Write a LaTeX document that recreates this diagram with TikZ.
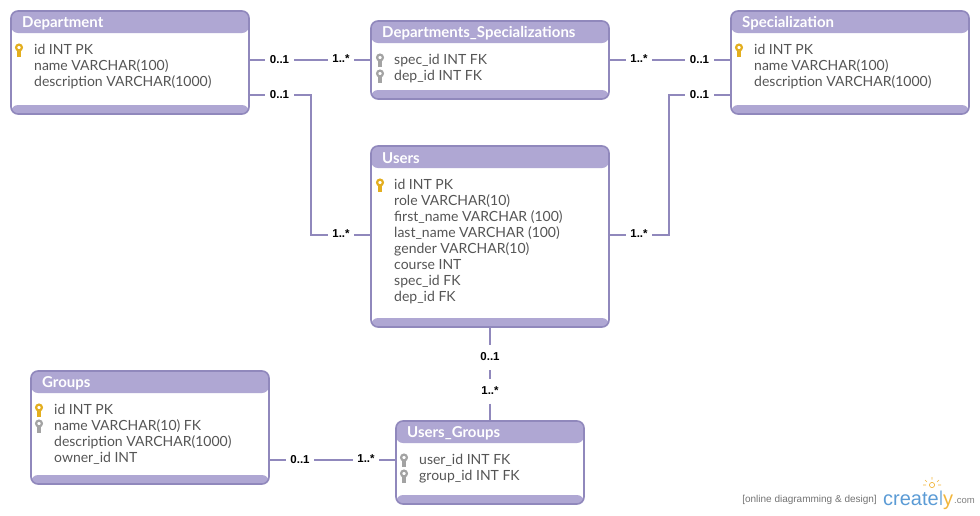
\documentclass[tikz,border=0pt]{standalone}
\usepackage{fontspec}
\setmainfont{Lato}
\newfontfamily\logofont{Liberation Sans}
\usetikzlibrary{backgrounds,calc}
\definecolor{edgec}{HTML}{9088BC}
\definecolor{headc}{HTML}{AFA7D3}
\definecolor{bodyc}{HTML}{555555}
\definecolor{keyg}{HTML}{E3AE1F}
\definecolor{keyf}{HTML}{A3A3A3}
\definecolor{logob}{HTML}{5B9BD5}
\definecolor{logoo}{HTML}{F2B63C}
\tikzset{
  tablebox/.style={draw=edgec,line width=1.6pt,rounded corners=7pt,fill=white,anchor=north west,inner sep=0pt,outer sep=0pt},
  titletext/.style={anchor=west,text=white,font=\fontsize{15}{16}\selectfont\bfseries,inner sep=0pt},
  bodytext/.style={anchor=north west,align=left,text=bodyc,font=\fontsize{14}{16}\selectfont,inner sep=0pt,yshift=-3pt},
  cardlabel/.style={fill=white,inner xsep=4.5pt,inner ysep=2pt,text depth=2pt,text=black,font=\logofont\fontsize{11.5}{13}\selectfont\bfseries},
  tallgap/.style={inner ysep=7pt},
  conn/.style={draw=edgec,line width=1.6pt},
}
% name, x, y, w, h, title
\newcommand{\tablenode}[6]{%
  \node[tablebox,minimum width=#4pt,minimum height=#5pt,
    path picture={
      \fill[headc] (path picture bounding box.north west) rectangle ($(path picture bounding box.north east)+(0pt,-22pt)$);
      \fill[headc] ($(path picture bounding box.south west)+(0pt,9pt)$) rectangle (path picture bounding box.south east);
    }] (#1) at (#2,#3) {};
  \node[titletext] (#1title) at (#2+11,#3+12.5) {#6};
}
% colour, x, y: centre of key head
\newcommand{\keyicon}[3]{%
  \draw[#1,line width=2.2pt] (#2,#3-1.5) circle (2.9pt);
  \fill[#1] (#2-1.8,#3+1.5) rectangle (#2+1.8,#3+7.5);
}
\begin{document}
\begin{tikzpicture}[x=1pt,y=-1pt]
\useasboundingbox (0,0) rectangle (980,515);

\tablenode{dept}{11}{11}{238}{103}{Department}
\node[bodytext] (deptbody) at (34,41) {id INT PK\\name VARCHAR(100)\\description VARCHAR(1000)};
\keyicon{keyg}{19}{49}

\tablenode{ds}{371}{21}{238}{78}{Departments\_Specializations}
\node[bodytext] (dsbody) at (394,51) {spec\_id INT FK\\dep\_id INT FK};
\keyicon{keyf}{380}{59}
\keyicon{keyf}{380}{75}

\tablenode{spec}{731}{11}{238}{103}{Specialization}
\node[bodytext] (specbody) at (754,41) {id INT PK\\name VARCHAR(100)\\description VARCHAR(1000)};
\keyicon{keyg}{739}{49}

\tablenode{users}{371}{146}{238}{181}{Users}
\node[bodytext] (usersbody) at (394,176) {id INT PK\\role VARCHAR(10)\\first\_name VARCHAR (100)\\last\_name VARCHAR (100)\\gender VARCHAR(10)\\course INT\\spec\_id FK\\dep\_id FK};
\keyicon{keyg}{380}{184}

\tablenode{groups}{31}{371}{238}{113}{Groups}
\node[bodytext] (groupsbody) at (54,401) {id INT PK\\name VARCHAR(10) FK\\description VARCHAR(1000)\\owner\_id INT};
\keyicon{keyg}{39}{409}
\keyicon{keyf}{39}{425}

\tablenode{ug}{396}{421}{188}{83}{Users\_Groups}
\node[bodytext] (ugbody) at (419,451) {user\_id INT FK\\group\_id INT FK};
\keyicon{keyf}{404}{459}
\keyicon{keyf}{404}{475}

\node[cardlabel] (a1) at (279.5,60) {0..1};
\node[cardlabel] (a2) at (341,60) {1..*};
\node[cardlabel] (b1) at (279.5,95) {0..1};
\node[cardlabel] (b2) at (341,235) {1..*};
\node[cardlabel] (c1) at (639,60) {1..*};
\node[cardlabel] (c2) at (699.5,60) {0..1};
\node[cardlabel] (d1) at (639,235) {1..*};
\node[cardlabel] (d2) at (699.5,95) {0..1};
\node[cardlabel,tallgap] (e1) at (490,357.5) {0..1};
\node[cardlabel,tallgap] (e2) at (490,391.5) {1..*};
\node[cardlabel] (f1) at (300,460) {0..1};
\node[cardlabel] (f2) at (366,460) {1..*};

\begin{pgfonlayer}{background}
\draw[conn] (dept.east |- a1) -- (a1) -- (a2) -- (ds.west |- a2);
\draw[conn] (dept.east |- b1) -- (b1) -| (311,235) -- (b2) -- (users.west |- b2);
\draw[conn] (ds.east |- c1) -- (c1) -- (c2) -- (spec.west |- c2);
\draw[conn] (users.east |- d1) -- (d1) -| (669,95) -- (d2) -- (spec.west |- d2);
\draw[conn] (users.south -| e1) -- (e1) -- (e2) -- (ug.north -| e2);
\draw[conn] (groups.east |- f1) -- (f1) -- (f2) -- (ug.west |- f2);
\end{pgfonlayer}

\node[anchor=east,inner sep=0pt,text=black!55,font=\logofont\fontsize{10}{11}\selectfont] (tag) at (877,499.5) {[online diagramming \& design]};
\node[anchor=base west,inner sep=0pt,text=logob,font=\logofont\fontsize{20}{24}\selectfont] (logo) at (883,505) {create\textcolor{logob!70}{l}\textcolor{logoo}{y}};
\node[anchor=base west,inner sep=0pt,text=black!50,font=\logofont\fontsize{9.5}{11}\selectfont] (dotcom) at (954,503) {.com};
\draw[logoo,line width=.7pt] (932,485) circle (2.6pt);
\draw[logoo,line width=.6pt] (932,477)--(932,479.5) (925,480)--(927,482) (939,480)--(937,482) (923,485)--(926,485) (941,485)--(938,485);
\end{tikzpicture}
\end{document}
